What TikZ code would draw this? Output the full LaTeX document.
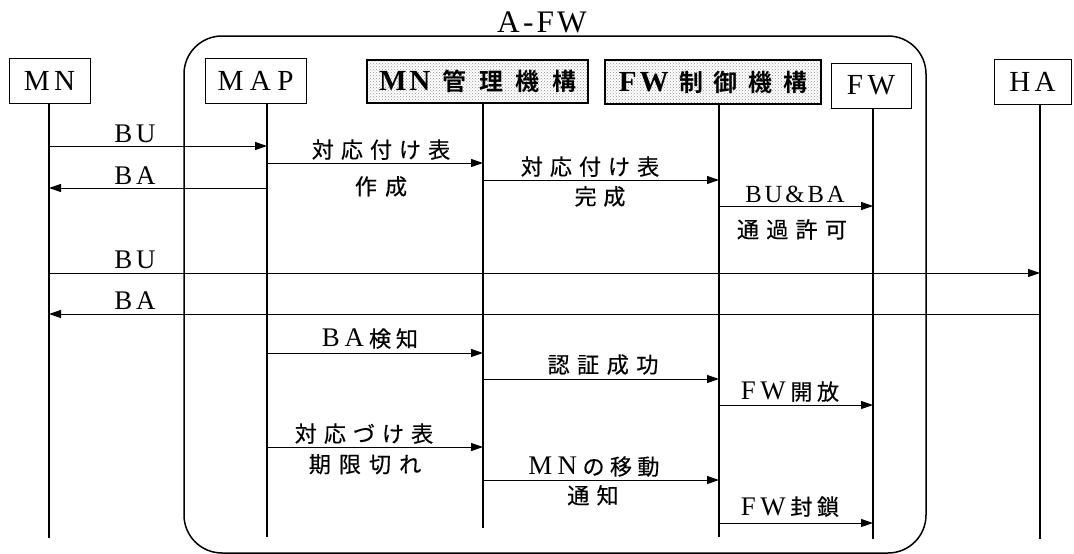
\documentclass[tikz,border=0pt]{standalone}
\usepackage{fontspec}
\setmainfont{Liberation Serif}[Scale=1.12]
\newfontfamily\jp{Noto Sans CJK JP}[Scale=0.92, UprightFeatures={FakeBold=0.4}, BoldFont={Noto Sans CJK JP Bold}]
\usetikzlibrary{arrows.meta,patterns}
\makeatletter
\newlength\txgap
\def\txl#1#2{\ifnum`#1>255 {\jp#1}\else#1\fi\ifx\relax#2\expandafter\@gobble\else\hspace{\txgap}\expandafter\@firstofone\fi{\txl#2}}
\newcommand\tx[2][0.27em]{\setlength\txgap{#1}\txl#2\relax}
\makeatother
\begin{document}
\begin{tikzpicture}[x=1pt,y=-1pt,
  box/.style={draw, line width=1pt, inner sep=0pt, font=\fontsize{26}{26}\selectfont},
  sbox/.style={box, line width=1.6pt, pattern=crosshatch dots, pattern color=gray!85, font=\fontsize{26}{26}\selectfont\bfseries},
  life/.style={line width=1.2pt},
  msg/.style={line width=1pt, -{Triangle[length=12pt,width=8pt]}},
  lab/.style={inner sep=0pt, font=\fontsize{24}{24}\selectfont},
  above lab/.style={lab, anchor=south},
  below lab/.style={lab, anchor=north}]
\useasboundingbox (0,0) rectangle (1074,554);
% A-FW region
\draw[line width=1.5pt, rounded corners=38pt] (184,36) rectangle (926,553);
\node[inner sep=0pt, font=\fontsize{28}{28}\selectfont] (afw) at (542,22) {\tx[0.1em]{A-FW}};
% participants
\node[box, minimum width=81pt, minimum height=45pt] (mn) at (49.5,80.5) {\tx[0.15em]{MN}};
\node[box, minimum width=101pt, minimum height=45pt] (map) at (255.5,80.5) {\tx[0.22em]{MAP}};
\node[sbox, minimum width=221pt, minimum height=43pt] (mnm) at (477.5,81.5) {\tx[0.1em]{MN}\hspace{0.42em}\tx[0.43em]{管理機構}};
\node[sbox, minimum width=216pt, minimum height=44pt] (fwc) at (713,82) {\tx[0.1em]{FW}\hspace{0.36em}\tx[0.37em]{制御機構}};
\node[box, minimum width=80pt, minimum height=45pt] (fw) at (871,85.5) {\tx[0.15em]{FW}};
\node[box, minimum width=77pt, minimum height=45pt] (ha) at (1032.5,81.5) {\tx[0.15em]{HA}};
% lifeline ends
\coordinate (mnB) at (49,538);
\coordinate (mapB) at (267,537);
\coordinate (mnmB) at (483,528);
\coordinate (fwcB) at (719,537);
\coordinate (fwB) at (873,539);
\coordinate (haB) at (1040,539);
\draw[life] (mn.south -| mnB) -- (mnB);
\draw[life] (map.south -| mapB) -- (mapB);
\draw[life] (mnm.south -| mnmB) -- (mnmB);
\draw[life] (fwc.south -| fwcB) -- (fwcB);
\draw[life] (fw.south -| fwB) -- (fwB);
\draw[life] (ha.south -| haB) -- (haB);
% messages
\draw[msg] (mnB |- 0,146) -- (mapB |- 0,146);
\node[above lab] (m1) at (135,143) {\tx[0.15em]{BU}};
\draw[msg] (mapB |- 0,163) -- (mnmB |- 0,163);
\node[above lab] (m2a) at (381,160) {\tx[0.26em]{対応付け表}};
\node[below lab] (m2b) at (381,176) {\tx[0.3em]{作成}};
\draw[msg] (mapB |- 0,188) -- (mnB |- 0,188);
\node[above lab] (m3) at (135,185) {\tx[0.15em]{BA}};
\draw[msg] (mnmB |- 0,180) -- (fwcB |- 0,180);
\node[above lab] (m4a) at (590,177) {\tx[0.26em]{対応付け表}};
\node[below lab] (m4b) at (600,186) {\tx[0.25em]{完成}};
\draw[msg] (fwcB |- 0,206) -- (fwB |- 0,206);
\node[above lab, font=\fontsize{22}{22}\selectfont] (m5a) at (795,203) {\tx[0.12em]{BU\&BA}};
\node[below lab] (m5b) at (792,219) {\tx{通過許可}};
\draw[msg] (mnB |- 0,273) -- (haB |- 0,273);
\node[above lab] (m6) at (135,269) {\tx[0.15em]{BU}};
\draw[msg] (haB |- 0,314) -- (mnB |- 0,314);
\node[above lab] (m7) at (135,310) {\tx[0.15em]{BA}};
\draw[msg] (mapB |- 0,353) -- (mnmB |- 0,353);
\node[above lab] (m8) at (370,349) {\tx[0.18em]{BA検知}};
\draw[msg] (mnmB |- 0,379) -- (fwcB |- 0,379);
\node[above lab] (m9) at (603,375) {\tx[0.28em]{認証成功}};
\draw[msg] (fwcB |- 0,405) -- (fwB |- 0,405);
\node[above lab] (m10) at (790,402) {\tx[0.17em]{FW開放}};
\draw[msg] (mapB |- 0,447) -- (mnmB |- 0,447);
\node[above lab] (m11a) at (364,444) {\tx[0.26em]{対応づけ表}};
\node[below lab] (m11b) at (365,454) {\tx[0.3em]{期限切れ}};
\draw[msg] (mnmB |- 0,480) -- (fwcB |- 0,480);
\node[above lab] (m12a) at (594,477) {\tx[0.2em]{MNの移動}};
\node[below lab] (m12b) at (593,485) {\tx{通知}};
\draw[msg] (fwcB |- 0,523) -- (fwB |- 0,523);
\node[above lab] (m13) at (790,517) {\tx[0.17em]{FW封鎖}};
\end{tikzpicture}
\end{document}
